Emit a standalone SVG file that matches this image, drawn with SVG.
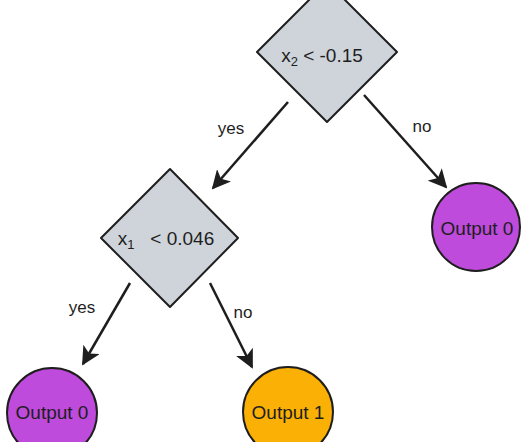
<svg xmlns="http://www.w3.org/2000/svg" width="530" height="442" viewBox="0 0 530 442">
<defs>
<style>
.dia{fill:#ced4da;stroke:#1e1e1e;stroke-width:2;stroke-linejoin:round}
.c0{fill:#be4bdb;stroke:#1e1e1e;stroke-width:2}
.c1{fill:#fab005;stroke:#1e1e1e;stroke-width:2}
.t{font-family:"Liberation Sans",Arial,sans-serif;font-size:19px;fill:#1e1e1e;text-anchor:middle;dominant-baseline:central}
.lbl{font-family:"Liberation Sans",Arial,sans-serif;font-size:17px;fill:#1e1e1e;text-anchor:middle;dominant-baseline:central}
.e{stroke:#1e1e1e;stroke-width:2.5;fill:none;marker-end:url(#ah)}
</style>
<marker id="ah" viewBox="0 0 10 10" refX="9" refY="5" markerWidth="7.5" markerHeight="7.5" orient="auto" markerUnits="strokeWidth">
<path d="M0,0 L10,5 L0,10 L2.5,5 Z" fill="#1e1e1e"/>
</marker>
</defs>
<g id="connectors">
<line class="e" x1="288" y1="102" x2="213" y2="188"/>
<line class="e" x1="364" y1="95" x2="446" y2="187"/>
<line class="e" x1="130" y1="283" x2="83" y2="364"/>
<line class="e" x1="210" y1="283" x2="252" y2="367"/>
<text class="lbl" x="231" y="128">yes</text>
<text class="lbl" x="422" y="126">no</text>
<text class="lbl" x="82" y="307">yes</text>
<text class="lbl" x="243" y="312">no</text>
</g>
<g id="node-root">
<polygon class="dia" points="327,-18 397,52 327,122 257,52"/>
<text class="t" x="322" y="55">x<tspan font-size="13" dy="6">2</tspan><tspan dy="-6"> &lt; -0.15</tspan></text>
</g>
<g id="node-split">
<polygon class="dia" points="170,169 238,238 170,307 101,238"/>
<text class="t" x="166" y="238">x<tspan font-size="13" dy="6">1</tspan><tspan dy="-6">&#160;&#160; &lt; 0.046</tspan></text>
</g>
<g id="node-out-right">
<circle class="c0" cx="476" cy="227" r="44"/>
<text class="t" x="477" y="228">Output 0</text>
</g>
<g id="node-out-left">
<circle class="c0" cx="52" cy="413" r="45"/>
<text class="t" x="52" y="412">Output 0</text>
</g>
<g id="node-out-mid">
<circle class="c1" cx="288" cy="412" r="45"/>
<text class="t" x="288" y="412">Output 1</text>
</g>
</svg>
